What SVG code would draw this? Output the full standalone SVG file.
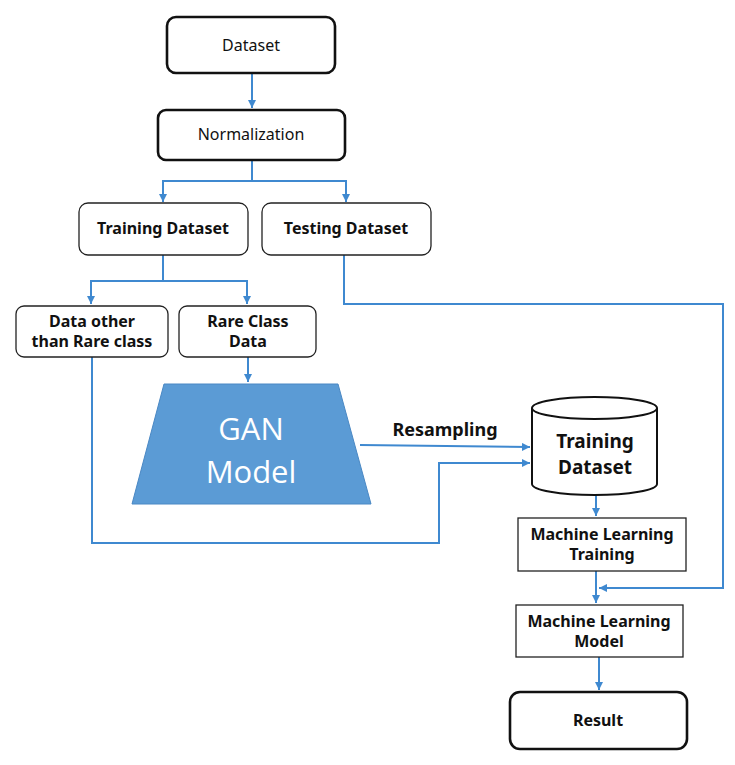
<svg xmlns="http://www.w3.org/2000/svg" width="735" height="765" viewBox="0 0 735 765">
<style>
.box{fill:#fff;stroke:#222;stroke-width:1.3}
.thick{fill:#fff;stroke:#111;stroke-width:2.6}
.t{font-family:"Noto Sans","Open Sans",sans-serif;font-size:16px;font-weight:bold;fill:#111;text-anchor:middle}
.r{font-weight:normal}
.c{fill:none;stroke:#3f89d0;stroke-width:2}
</style>
<defs>
<marker id="a" markerUnits="userSpaceOnUse" markerWidth="10" markerHeight="10" refX="8" refY="4" orient="auto">
<path d="M0,0 L8,4 L0,8 z" fill="#3f89d0"/>
</marker>
</defs>
<rect width="735" height="765" fill="#fff"/>
<g id="connectors">
<path class="c" d="M252,73 V108" marker-end="url(#a)"/>
<path class="c" d="M252,160 V181 H163 V202" marker-end="url(#a)"/>
<path class="c" d="M252,181 H346 V202" marker-end="url(#a)"/>
<path class="c" d="M163,255 V281 H91 V304" marker-end="url(#a)"/>
<path class="c" d="M163,281 H247 V304" marker-end="url(#a)"/>
<path class="c" d="M248,357 V382" marker-end="url(#a)"/>
<path class="c" d="M360,445 L530,447" marker-end="url(#a)"/>
<path class="c" d="M92,357 V543 H439 V463 H530" marker-end="url(#a)"/>
<path class="c" d="M344,255 V304 H723 V588 H599" marker-end="url(#a)"/>
<path class="c" d="M596,495 V516" marker-end="url(#a)"/>
<path class="c" d="M596,571 V603" marker-end="url(#a)"/>
<path class="c" d="M599,657 V690" marker-end="url(#a)"/>
</g>
<g id="dataset">
<rect class="thick" x="167" y="17" width="168" height="56" rx="9"/>
<text class="t r" x="251" y="51">Dataset</text>
</g>
<g id="normalization">
<rect class="thick" x="158" y="110" width="187" height="50" rx="8"/>
<text class="t r" x="251" y="140">Normalization</text>
</g>
<g id="training-dataset">
<rect class="box" x="79" y="203" width="169" height="52" rx="9"/>
<text class="t" x="163" y="234">Training Dataset</text>
</g>
<g id="testing-dataset">
<rect class="box" x="262" y="203" width="169" height="52" rx="9"/>
<text class="t" x="346" y="234">Testing Dataset</text>
</g>
<g id="data-other">
<rect class="box" x="16" y="306" width="152" height="51" rx="8"/>
<text class="t" x="92" y="327">Data other</text>
<text class="t" x="92" y="347">than Rare class</text>
</g>
<g id="rare-class">
<rect class="box" x="179" y="306" width="137" height="51" rx="8"/>
<text class="t" x="248" y="327">Rare Class</text>
<text class="t" x="248" y="347">Data</text>
</g>
<g id="gan">
<polygon points="164,384 338,384 371,504 132,504" fill="#5b9bd5" stroke="#4a88c4" stroke-width="1"/>
<text x="251" y="440" font-family="'Open Sans','Noto Sans',sans-serif" font-size="31" fill="#fff" text-anchor="middle">GAN</text>
<text x="251" y="483" font-family="'Open Sans','Noto Sans',sans-serif" font-size="31" fill="#fff" text-anchor="middle">Model</text>
</g>
<g id="resampling-label">
<text class="t" x="445" y="436" style="font-size:18px">Resampling</text>
</g>
<g id="training-db">
<path d="M532,408 V484 A62.5,11 0 0 0 657,484 V408" fill="#fff" stroke="#111" stroke-width="2"/>
<ellipse cx="594.5" cy="408" rx="62.5" ry="11" fill="#fff" stroke="#111" stroke-width="2"/>
<text class="t" x="595" y="448" style="font-size:19px">Training</text>
<text class="t" x="595" y="474" style="font-size:19px">Dataset</text>
</g>
<g id="ml-training">
<rect class="box" x="518" y="518" width="168" height="53"/>
<text class="t" x="602" y="540">Machine Learning</text>
<text class="t" x="602" y="560">Training</text>
</g>
<g id="ml-model">
<rect class="box" x="516" y="605" width="167" height="52"/>
<text class="t" x="599" y="627">Machine Learning</text>
<text class="t" x="599" y="647">Model</text>
</g>
<g id="result">
<rect class="thick" x="510" y="692" width="177" height="57" rx="10"/>
<text class="t" x="598" y="726">Result</text>
</g>
</svg>
